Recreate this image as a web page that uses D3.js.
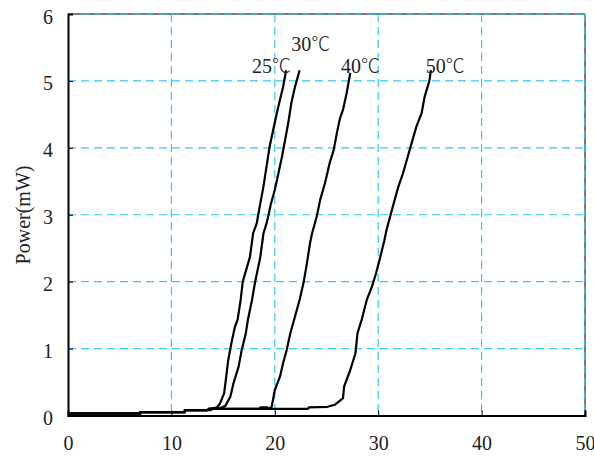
<!DOCTYPE html>
<html><head><meta charset="utf-8">
<script src="https://cdn.jsdelivr.net/npm/d3@7"></script>
<style>body{margin:0;background:#fff}svg{display:block}text{font-family:"Liberation Serif","Times New Roman",serif;fill:#222}</style>
</head><body>
<script>
const xTicks = [0,10,20,30,40,50];
const yTicks = [0,1,2,3,4,5,6];
const yTitle = "Power(mW)";
const baseline = [[0,0.03],[7.0,0.03],[7.0,0.05],[11.3,0.05],[11.3,0.08]];
const s25 = [[13.5,0.08],[13.6,0.10],[14.4,0.12],[14.7,0.18],[15.1,0.33],[15.3,0.58],[15.5,0.83],[15.8,1.08],[16.15,1.33],[16.4,1.43],[16.7,1.73],[16.9,2.0],[17.6,2.37],[17.9,2.72],[18.25,2.87],[18.4,3.0],[18.6,3.17],[18.9,3.42],[19.2,3.72],[19.5,4.02],[19.85,4.27],[20.2,4.52],[20.5,4.72],[20.8,4.91],[21.1,5.16]];
const s30 = [[13.8,0.08],[14.0,0.10],[14.7,0.11],[15.2,0.14],[15.7,0.28],[16.0,0.48],[16.5,0.73],[16.8,0.98],[17.2,1.23],[17.4,1.43],[17.8,1.73],[18.1,2.0],[18.6,2.37],[18.9,2.72],[19.2,2.87],[19.4,3.0],[19.6,3.15],[20.0,3.37],[20.35,3.62],[20.7,3.87],[21.0,4.12],[21.3,4.37],[21.6,4.67],[21.95,4.91],[22.4,5.16]];
const s40 = [[13.5,0.08],[13.6,0.10],[18.5,0.10],[18.6,0.12],[19.3,0.12],[19.4,0.10],[19.7,0.13],[20.0,0.38],[20.5,0.58],[20.8,0.78],[21.15,0.98],[21.5,1.23],[21.9,1.45],[22.4,1.73],[22.8,2.0],[23.1,2.27],[23.4,2.57],[23.6,2.72],[24.05,2.97],[24.4,3.23],[24.85,3.47],[25.3,3.77],[25.7,3.97],[26.0,4.22],[26.3,4.44],[26.6,4.57],[26.95,4.82],[27.3,5.12]];
const s50 = [[13.5,0.08],[13.6,0.10],[23.2,0.10],[23.3,0.12],[25.1,0.13],[25.8,0.16],[26.6,0.26],[26.7,0.43],[27.3,0.68],[27.8,0.93],[28.0,1.23],[28.4,1.43],[28.9,1.73],[29.4,1.93],[29.8,2.13],[30.2,2.37],[30.6,2.62],[30.8,2.77],[31.2,3.0],[31.5,3.17],[31.95,3.42],[32.4,3.62],[33.1,4.0],[33.7,4.32],[34.2,4.52],[34.5,4.77],[34.95,5.0],[35.1,5.16]];
const seriesNames = ["25","30","40","50"];
const unit = "℃";
const seriesValues = [s25,s30,s40,s50];
// label anchor (data coords)
const labelX = [17.8,21.6,26.4,34.6];
const labelY = [5.12,5.45,5.12,5.12];

const W=594,H=457, L=68,R=585,T=14,B=415.5;
const svg=d3.select("body").append("svg").attr("width",W).attr("height",H);
const x=d3.scaleLinear().domain([0,50]).range([L,R]);
const y=d3.scaleLinear().domain([0,6]).range([B,T]);
const grid="#33c8f5";

// top/right grey border
svg.append("line").attr("x1",L).attr("x2",R).attr("y1",T).attr("y2",T).attr("stroke","#7a7a7a").attr("stroke-width",2);
svg.append("line").attr("x1",R).attr("x2",R).attr("y1",T).attr("y2",B).attr("stroke","#7a7a7a").attr("stroke-width",2);

// grid
svg.append("g").selectAll("line").data(yTicks.filter(d=>d>0)).join("line")
  .attr("x1",L).attr("x2",R).attr("y1",d=>y(d)).attr("y2",d=>y(d))
  .attr("stroke",grid).attr("stroke-width",1.2).attr("stroke-dasharray","8,5");
svg.append("g").selectAll("line").data(xTicks.filter(d=>d>0)).join("line")
  .attr("x1",d=>x(d)).attr("x2",d=>x(d)).attr("y1",T).attr("y2",B)
  .attr("stroke",grid).attr("stroke-width",1.2).attr("stroke-dasharray","8,5");

// axes
const xa=svg.append("g").attr("transform",`translate(0,${B})`)
  .call(d3.axisBottom(x).tickValues(xTicks).tickSize(-5).tickPadding(20).tickFormat(d3.format("d")));
const ya=svg.append("g").attr("transform",`translate(${L},0)`)
  .call(d3.axisLeft(y).tickValues(yTicks).tickSize(-5).tickPadding(15).tickFormat(d3.format("d")));
[xa,ya].forEach(a=>{a.select(".domain").attr("stroke","#000").attr("stroke-width",2);
  a.selectAll(".tick line").attr("stroke","#000").attr("stroke-width",1);
  a.selectAll(".tick text").attr("font-size",20).attr("fill","#222").style("font-family","'Liberation Serif',serif");});
ya.selectAll(".tick text").attr("dy","0.45em");

// y title
svg.append("text").attr("transform",`translate(30,215) rotate(-90)`)
  .attr("text-anchor","middle").attr("font-size",20).text(yTitle);

// curves
const line=d3.line().x(d=>x(d[0])).y(d=>y(d[1]));
svg.append("g").selectAll("path").data(seriesValues).join("path")
  .attr("d",d=>line(baseline.concat(d))).attr("fill","none").attr("stroke","#000")
  .attr("stroke-width",2.2).attr("stroke-linejoin","round");

// labels
const lab=svg.append("g").selectAll("text").data(seriesNames).join("text")
  .attr("x",(d,i)=>x(labelX[i])).attr("y",(d,i)=>y(labelY[i]))
  .attr("font-size",20).attr("fill","#333");
lab.append("tspan").text(d=>d);
lab.append("tspan").style("font-family","'Noto Sans CJK TC','Noto Sans CJK JP',sans-serif").attr("font-weight",300).attr("font-size",19).text(unit);
</script>
</body></html>
